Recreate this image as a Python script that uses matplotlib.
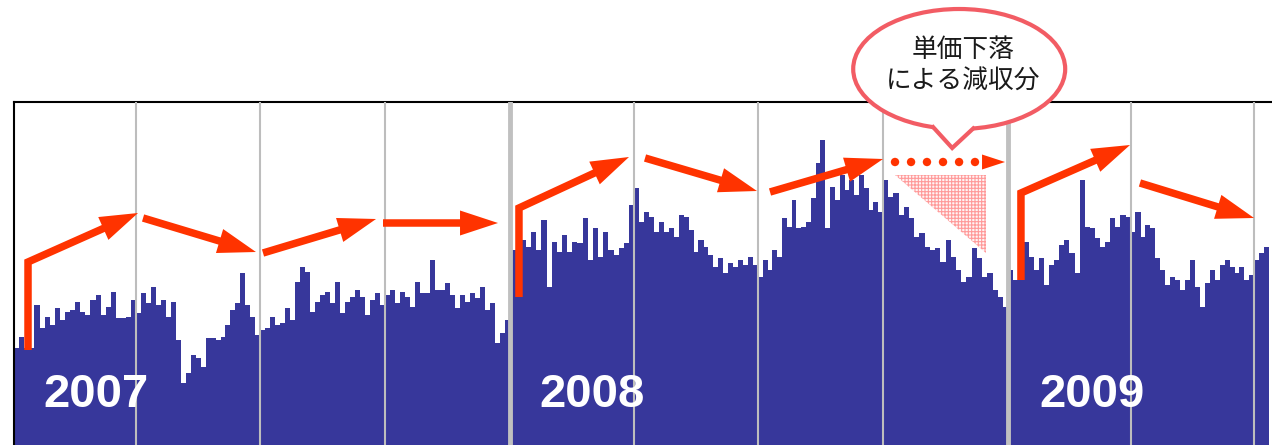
import numpy as np
import matplotlib
matplotlib.use('Agg')
import matplotlib.pyplot as plt
import matplotlib.patches as mpatches
import matplotlib.transforms as mtransforms
from matplotlib.lines import Line2D

# sales bars (arbitrary units)
q2007_1 = [97, 108, 97, 97, 140, 117, 128, 120, 137, 125, 133, 135, 143, 133, 130, 145, 150, 130, 138, 153, 127, 127, 128, 145]
q2007_2 = [132, 152, 142, 158, 140, 145, 128, 143, 105, 62, 72, 90, 87, 78, 107, 107, 105, 108, 120, 135, 142, 172, 140, 128, 110]
q2007_3 = [115, 117, 128, 120, 122, 137, 125, 163, 178, 173, 133, 143, 150, 153, 142, 163, 132, 143, 148, 155, 148, 130, 145, 152, 140]
q2007_4 = [150, 155, 142, 153, 148, 138, 163, 152, 152, 185, 155, 155, 162, 150, 137, 150, 143, 152, 147, 158, 135, 142, 102, 112, 125]
q2008_1 = [195, 205, 205, 198, 213, 195, 225, 158, 203, 193, 210, 193, 203, 202, 227, 185, 217, 188, 213, 195, 190, 197, 202, 240]
q2008_2 = [257, 223, 233, 228, 213, 223, 213, 217, 208, 230, 228, 215, 193, 205, 198, 190, 178, 187, 172, 182, 178, 185, 180, 188, 180]
q2008_3 = [168, 185, 175, 195, 188, 227, 218, 245, 217, 218, 223, 247, 282, 305, 217, 258, 245, 270, 255, 265, 250, 270, 257, 235, 243, 233]
q2008_4 = [265, 248, 252, 230, 238, 227, 208, 212, 198, 195, 197, 183, 205, 188, 175, 163, 168, 197, 187, 168, 172, 155, 148, 138]
q2009_1 = [175, 165, 175, 203, 188, 175, 187, 160, 180, 185, 200, 205, 192, 172, 265, 218, 217, 207, 198, 203, 227, 218, 230, 228]
q2009_2 = [213, 233, 208, 220, 217, 187, 175, 160, 168, 165, 155, 165, 185, 158, 138, 162, 175, 165, 180, 185, 178, 172, 178, 165, 170]
q2009_3 = [185, 192, 198]

# day offsets (from 2007-01-01) where each chunk starts, last = end of data
quarter_days = [0, 90, 181, 273, 365, 456, 547, 639, 731, 821, 912, 923]
year_days = [365, 731]
year_labels = ['2007', '2008', '2009']
year_label_days = [60, 425, 793]
callout_lines = ['単価下落', 'による減収分']

BAR = '#37379b'
ORANGE = '#ff3300'
BUBBLE = '#f25c64'
PIX = mtransforms.IdentityTransform()

fig = plt.figure(figsize=(12.72, 4.45), dpi=100)
ax = fig.add_axes([14 / 1272, 0, 1 - 14 / 1272, 343 / 445])
ax.set_xlim(0, 925)
ax.set_ylim(0, 343)

chunks = [q2007_1, q2007_2, q2007_3, q2007_4, q2008_1, q2008_2,
          q2008_3, q2008_4, q2009_1, q2009_2, q2009_3]
xs, hs, ws = [], [], []
for i, chunk in enumerate(chunks):
    a, b = quarter_days[i], quarter_days[i + 1]
    w = (b - a) / len(chunk)
    xs += list(a + w * (np.arange(len(chunk)) + 0.5))
    hs += chunk
    ws += [w * 1.02] * len(chunk)
ax.bar(xs, hs, width=ws, color=BAR, linewidth=0, zorder=2)

for d in quarter_days[1:-1]:
    if d in year_days:
        ax.axvline(d, color='#c0c0c0', lw=3.5, zorder=3)
    else:
        ax.axvline(d, color='#bdbdbd', lw=1.5, zorder=3)

for s in ['right', 'bottom']:
    ax.spines[s].set_visible(False)
for s in ['top', 'left']:
    ax.spines[s].set_color('black')
    ax.spines[s].set_linewidth(1.5)
ax.set_xticks([])
ax.set_yticks([])

for d, lab in zip(year_label_days, year_labels):
    ax.text(d, 38, lab, color='white', fontsize=34, fontweight='bold',
            family=['Liberation Sans', 'DejaVu Sans'], ha='center', va='baseline', zorder=4)


def to_px(pts):
    return ax.transData.transform(np.asarray(pts, float))


def arrow(pts, shaft=7.5, head_len=38, head_w=25):
    P = to_px(pts)
    tip, prev = P[-1], P[-2]
    u = (tip - prev) / np.hypot(*(tip - prev))
    n = np.array([-u[1], u[0]])
    base = tip - u * head_len
    if shaft > 0:
        path = np.vstack([P[:-1], base + u])
        fig.add_artist(Line2D(path[:, 0], path[:, 1], transform=PIX, lw=shaft * 0.72,
                              color=ORANGE, solid_capstyle='butt', solid_joinstyle='miter', zorder=5))
    fig.add_artist(mpatches.Polygon([tip, base + n * head_w / 2, base - n * head_w / 2], closed=True,
                                    transform=PIX, facecolor=ORANGE, lw=0, zorder=5))


# trend arrows
arrow([(10.3, 95), (10.3, 183), (91.2, 232)])
arrow([(94.9, 227), (177.9, 193)])
arrow([(183.1, 192), (266.2, 226)])
arrow([(271.3, 222), (355.9, 222)])
arrow([(371.3, 148), (371.3, 237), (452.2, 288)])
arrow([(464.0, 287), (546.3, 254)])
arrow([(555.9, 253), (639.0, 286)])
arrow([(740.4, 165), (740.4, 252), (820.6, 300)])
arrow([(827.9, 262), (911.8, 227)])

# dotted arrow
for d in [647.8, 659.6, 671.3, 683.1, 694.9, 706.6]:
    fig.add_artist(mpatches.Circle(to_px([(d, 283)])[0], 4.2, transform=PIX,
                                   facecolor=ORANGE, lw=0, zorder=5))
arrow([(712.0, 283), (728.7, 283)], shaft=0, head_len=23, head_w=15)

# lost-revenue triangle
plt.rcParams['hatch.linewidth'] = 0.8
ax.add_patch(mpatches.Polygon([(647.8, 270), (714.7, 270), (714.7, 192)], closed=True,
                              facecolor='#fff4f4', edgecolor='#ff9a9a', hatch='+++++', lw=0, zorder=4))

# callout bubble
c = to_px([(695, 376)])[0]
a_, b_ = 106, 60
fig.add_artist(mpatches.Ellipse(c, 2 * a_, 2 * b_, transform=PIX, facecolor='white',
                                edgecolor=BUBBLE, lw=3, zorder=6))
dxa, dxb = -26, 14
A = c + np.array([dxa, -b_ * np.sqrt(1 - (dxa / a_) ** 2)])
B = c + np.array([dxb, -b_ * np.sqrt(1 - (dxb / a_) ** 2)])
T = c + np.array([-7, -79])
fig.add_artist(mpatches.Polygon([A + [0, 12], B + [0, 12], B, T, A], closed=True, transform=PIX,
                                facecolor='white', lw=0, zorder=7))
fig.add_artist(Line2D([A[0], T[0], B[0]], [A[1], T[1], B[1]], transform=PIX, lw=3,
                      color=BUBBLE, solid_joinstyle='miter', zorder=8))
for k, line in enumerate(callout_lines):
    p = c + np.array([4, 19 - 32 * k])
    fig.text(p[0], p[1], line, transform=PIX, fontsize=18.5, color='#1a1a1a',
             family=['Noto Sans CJK JP', 'DejaVu Sans'], ha='center', va='center', zorder=9)

fig.savefig('out.png', dpi=100)
